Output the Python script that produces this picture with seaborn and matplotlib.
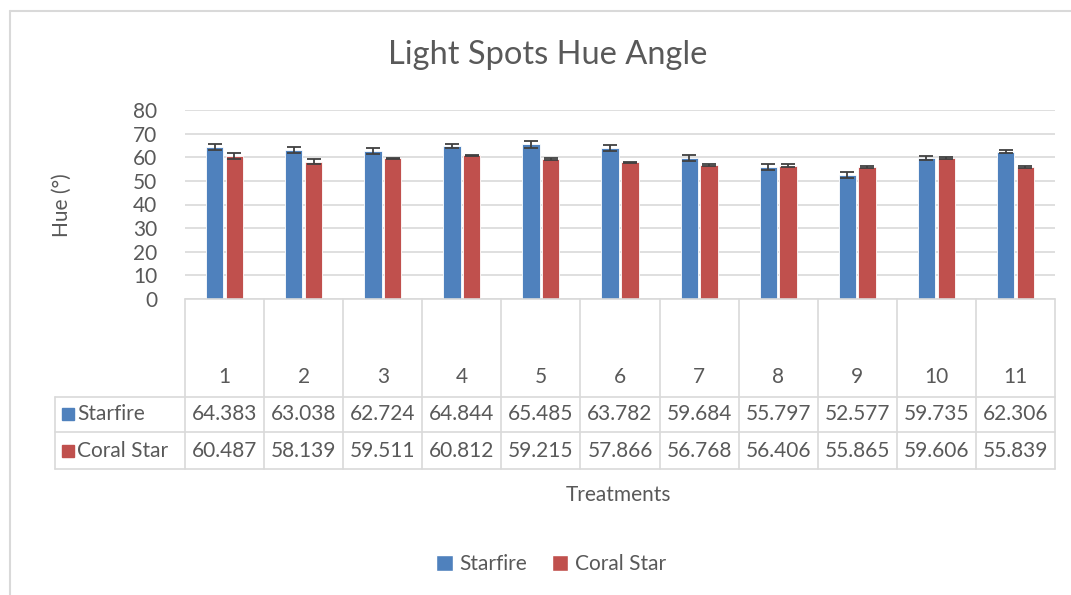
import numpy as np
import pandas as pd
import seaborn as sns
from matplotlib import pyplot as plt
from matplotlib.patches import Patch, Rectangle
from matplotlib.lines import Line2D

treatments = ['1', '2', '3', '4', '5', '6', '7', '8', '9', '10', '11']
starfire = [64.383, 63.038, 62.724, 64.844, 65.485, 63.782, 59.684, 55.797, 52.577, 59.735, 62.306]
coral_star = [60.487, 58.139, 59.511, 60.812, 59.215, 57.866, 56.768, 56.406, 55.865, 59.606, 55.839]
# error bar half widths
starfire_err = [1.4, 1.4, 1.3, 0.8, 1.5, 1.3, 1.2, 1.3, 1.2, 0.9, 0.6]
coral_err = [1.2, 1.0, 0.3, 0.3, 0.3, 0.3, 0.3, 0.6, 0.3, 0.3, 0.3]
series = ['Starfire', 'Coral Star']
colors = ['#4F81BD', '#C0504D']

W, H = 1071, 595
txt = '#595959'
line_c = '#D9D9D9'
fs = 15

sns.set_style('white')
plt.rcParams['font.family'] = ['Lato', 'DejaVu Sans']

df = pd.DataFrame({
    'Treatment': treatments * 2,
    'Hue': starfire + coral_star,
    'Series': [series[0]] * len(treatments) + [series[1]] * len(treatments),
})

fig = plt.figure(figsize=(W / 100, H / 100), dpi=100)
# axes box in pixel coords of the reference
left, right, top, bottom = 185, 1055, 110, 299
ax = fig.add_axes([left / W, 1 - bottom / H, (right - left) / W, (bottom - top) / H])

sns.barplot(data=df, x='Treatment', y='Hue', hue='Series', palette=colors,
            width=0.5, gap=0.12, ax=ax, legend=False, errorbar=None, saturation=1,
            edgecolor='white', linewidth=0.6)

# error bars on top of the bars
errs = [starfire_err, coral_err]
for cont, err in zip(ax.containers, errs):
    xs = [b.get_x() + b.get_width() / 2 for b in cont]
    ys = [b.get_height() for b in cont]
    ax.errorbar(xs, ys, yerr=err, fmt='none', ecolor='#404040',
                elinewidth=1.3, capsize=5, capthick=1.3, zorder=5)

ax.set_ylim(0, 80)
ax.set_xlim(-0.5, len(treatments) - 0.5)
ax.set_yticks(range(0, 81, 10))
ax.yaxis.grid(True, color=line_c, linewidth=1.2)
ax.set_axisbelow(True)
for s in ax.spines.values():
    s.set_visible(False)
ax.tick_params(axis='y', length=0, labelsize=fs, labelcolor=txt, pad=20)
ax.set_xticks([])
ax.set_xlabel('')
ax.set_ylabel('')

# data table below the axes, drawn in figure pixel coords
def fx(px):
    return px / W

def fy(py):
    return 1 - py / H

table_lines = []
col_w = (right - left) / len(treatments)
row_y = [bottom, 397, 432, 469]
label_left = 55
# horizontal rules
table_lines.append(([left, right], [bottom, bottom]))
for y in row_y[1:]:
    table_lines.append(([label_left, right], [y, y]))
# vertical rules
for i in range(len(treatments) + 1):
    x = left + i * col_w
    table_lines.append(([x, x], [bottom, row_y[-1]]))
table_lines.append(([label_left, label_left], [row_y[1], row_y[-1]]))
for xs, ys in table_lines:
    fig.add_artist(Line2D([fx(v) for v in xs], [fy(v) for v in ys], color=line_c, linewidth=1.2))

for i, t in enumerate(treatments):
    cx = left + (i + 0.5) * col_w
    fig.text(fx(cx), fy(377), t, ha='center', va='center', fontsize=fs, color=txt)
    fig.text(fx(cx), fy(414), f'{starfire[i]:.3f}', ha='center', va='center', fontsize=fs, color=txt)
    fig.text(fx(cx), fy(451), f'{coral_star[i]:.3f}', ha='center', va='center', fontsize=fs, color=txt)

for name, c, y in zip(series, colors, [414, 451]):
    fig.add_artist(Rectangle((fx(62), fy(y + 6)), 12 / W, 12 / H, color=c))
    fig.text(fx(77), fy(y), name, ha='left', va='center', fontsize=fs, color=txt)

# titles
fig.text(fx(548), fy(55), 'Light Spots Hue Angle', ha='center', va='center', fontsize=23.5, color=txt)
fig.text(fx(619), fy(495), 'Treatments', ha='center', va='center', fontsize=fs, color=txt)
fig.text(fx(62), fy(205), 'Hue (°)', ha='center', va='center', fontsize=fs, color=txt, rotation=90)

handles = [Patch(facecolor=c, label=n) for n, c in zip(series, colors)]
fig.legend(handles=handles, loc='center', bbox_to_anchor=(fx(551), fy(564)), ncol=2,
           frameon=False, fontsize=fs, labelcolor=txt, handlelength=0.8, handleheight=0.8,
           handletextpad=0.3, columnspacing=1.2)

# outer chart border (only left and top edges show)
fig.add_artist(Line2D([fx(10), fx(10)], [fy(11), 0], color=line_c, linewidth=1.5))
fig.add_artist(Line2D([fx(10), 1], [fy(11), fy(11)], color=line_c, linewidth=1.5))

fig.savefig('out.png', dpi=100)
